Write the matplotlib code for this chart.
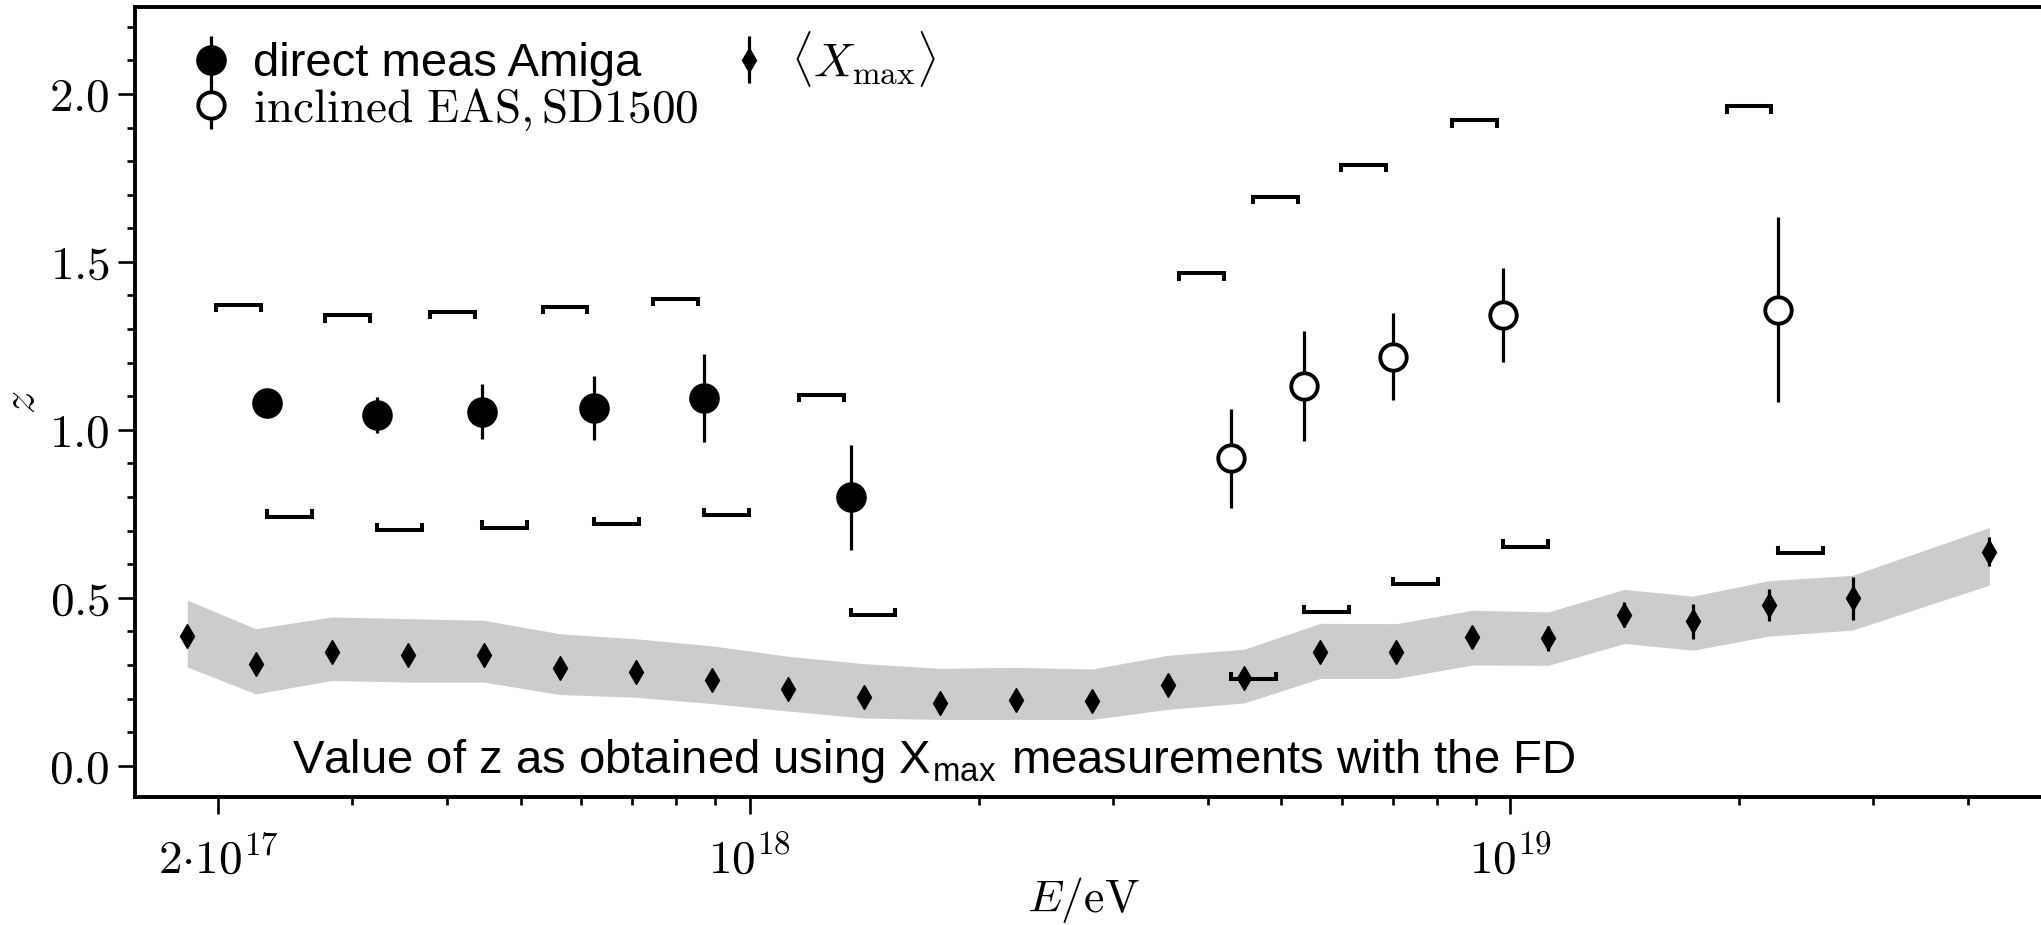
import numpy as np
import matplotlib
matplotlib.use('Agg')
import matplotlib.pyplot as plt
from matplotlib.ticker import FixedLocator, FixedFormatter, MultipleLocator, FormatStrFormatter, NullFormatter

plt.rcParams['mathtext.fontset'] = 'cm'
plt.rcParams['font.family'] = ['Liberation Sans', 'DejaVu Sans']

# direct muon measurement (AMIGA)
amiga_E = [2.32e17, 3.23e17, 4.44e17, 6.24e17, 8.71e17, 1.356e18]
amiga_z = [1.080, 1.045, 1.054, 1.065, 1.095, 0.799]
amiga_err = [0.02, 0.054, 0.082, 0.095, 0.13, 0.156]
amiga_sys_up = [1.373, 1.341, 1.351, 1.366, 1.391, 1.104]
amiga_sys_lo = [0.741, 0.701, 0.709, 0.719, 0.746, 0.448]

# inclined showers, SD1500
incl_E = [4.29e18, 5.36e18, 7.01e18, 9.79e18, 2.25e19]
incl_z = [0.915, 1.131, 1.218, 1.343, 1.358]
incl_err = [0.148, 0.164, 0.13, 0.14, 0.276]
incl_sys_up = [1.466, 1.693, 1.789, 1.922, 1.963]
incl_sys_lo = [0.257, 0.458, 0.541, 0.652, 0.632]

# z from <Xmax> (FD)
xmax_lgE = [17.26, 17.35, 17.45, 17.55, 17.65, 17.75, 17.85, 17.95, 18.05, 18.15,
            18.25, 18.35, 18.45, 18.55, 18.65, 18.75, 18.85, 18.95, 19.05, 19.15,
            19.24, 19.34, 19.45, 19.63]
xmax_z = [0.386, 0.303, 0.338, 0.330, 0.330, 0.291, 0.279, 0.256, 0.229, 0.204,
          0.187, 0.197, 0.192, 0.240, 0.260, 0.339, 0.339, 0.382, 0.379, 0.450,
          0.430, 0.478, 0.498, 0.637]
xmax_err = [0.027, 0.022, 0.015, 0.013, 0.013, 0.012, 0.012, 0.012, 0.012, 0.012,
            0.010, 0.010, 0.010, 0.017, 0.026, 0.027, 0.027, 0.032, 0.036, 0.038,
            0.053, 0.048, 0.065, 0.043]
xmax_band_hi = [0.493, 0.408, 0.443, 0.438, 0.433, 0.393, 0.378, 0.357, 0.326, 0.304,
                0.290, 0.293, 0.288, 0.329, 0.347, 0.424, 0.423, 0.463, 0.458, 0.525,
                0.505, 0.551, 0.567, 0.709]
xmax_band_lo = [0.294, 0.214, 0.254, 0.249, 0.249, 0.212, 0.204, 0.185, 0.163, 0.142,
                0.138, 0.138, 0.138, 0.168, 0.187, 0.260, 0.260, 0.300, 0.299, 0.364,
                0.344, 0.386, 0.404, 0.538]

xmax_E = 10 ** np.array(xmax_lgE)

W, H = 2041, 925
fig = plt.figure(figsize=(W / 100, H / 100), dpi=100)
ax_left, ax_right, ax_bot, ax_top = 134.5, 2050.3, 797.0, 6.6
ax = fig.add_axes([ax_left / W, 1 - ax_bot / H, (ax_right - ax_left) / W, (ax_bot - ax_top) / H])

lw = 2.3
fs = 34

ax.fill_between(xmax_E, xmax_band_lo, xmax_band_hi, color='0.8', lw=0, zorder=1)
h_xmax = ax.errorbar(xmax_E, xmax_z, yerr=xmax_err, fmt='d', color='k', ms=12,
                     elinewidth=lw, capsize=0, zorder=3)


def brackets(E, up, lo):
    # systematic brackets: upper one just left of the point, lower one to the right
    tick = 0.016
    for e, u, l in zip(E, up, lo):
        x0, x1 = e * 10 ** -0.068, e * 10 ** -0.009
        ax.plot([x0, x0, x1, x1], [u - tick, u, u, u - tick], color='k', lw=lw + 0.6,
                solid_joinstyle='miter', zorder=4)
        x0, x1 = e, e * 10 ** 0.059
        ax.plot([x0, x0, x1, x1], [l + tick, l, l, l + tick], color='k', lw=lw + 0.6,
                solid_joinstyle='miter', zorder=4)


brackets(amiga_E, amiga_sys_up, amiga_sys_lo)
brackets(incl_E, incl_sys_up, incl_sys_lo)

h_amiga = ax.errorbar(amiga_E, amiga_z, yerr=amiga_err, fmt='o', color='k', ms=21,
                      elinewidth=lw, capsize=0, zorder=5)
h_incl = ax.errorbar(incl_E, incl_z, yerr=incl_err, fmt='o', color='k', mfc='white',
                     mec='k', mew=2.8, ms=19, elinewidth=lw, capsize=0, zorder=5)

ax.set_xscale('log')
ax.set_xlim(10 ** 17.1906, 10 ** 19.71)
ax.set_ylim(-0.093, 2.26)

ax.xaxis.set_major_locator(FixedLocator([2e17, 1e18, 1e19]))
ax.xaxis.set_major_formatter(FixedFormatter([r'$2{\cdot}10^{17}$', r'$10^{18}$', r'$10^{19}$']))
minors = [m * 10.0 ** k for k in (17, 18, 19) for m in range(2, 10)]
ax.xaxis.set_minor_locator(FixedLocator([v for v in minors if v != 2e17]))
ax.xaxis.set_minor_formatter(NullFormatter())

ax.yaxis.set_major_locator(MultipleLocator(0.5))
ax.yaxis.set_minor_locator(MultipleLocator(0.1))
ax.yaxis.set_major_formatter(FormatStrFormatter(r'$%.1f$'))

ax.tick_params(which='both', direction='out', width=1.9, labelsize=fs, top=False, right=False)
ax.tick_params(which='major', length=12)
ax.tick_params(which='minor', length=6)
ax.tick_params(axis='x', pad=17)
ax.tick_params(axis='y', pad=6)
for s in ax.spines.values():
    s.set_linewidth(2.8)

ax.set_xlabel(r'$E/\mathrm{eV}$', fontsize=33)
ax.set_ylabel(r'$z$', fontsize=33)
ax.xaxis.set_label_coords(0.495, -0.099)
ax.yaxis.set_label_coords(-0.047, 0.5)

ax.text(0.0822, 0.0304, r'Value of z as obtained using X$_\mathregular{max}$ measurements with the FD',
        transform=ax.transAxes, fontsize=fs, va='baseline', ha='left')

leg = ax.legend([h_amiga, h_incl, h_xmax],
                ['direct meas Amiga', r'$\mathrm{inclined\ EAS,SD1500}$', r'$\langle X_\mathrm{max}\rangle$'],
                loc='upper left', bbox_to_anchor=(0.0128, 1.014), ncol=2, frameon=False,
                fontsize=fs, handlelength=0.8, handletextpad=0.5, columnspacing=0.65,
                labelspacing=0.0, borderaxespad=0.3)

fig.savefig('out.png', dpi=100)
